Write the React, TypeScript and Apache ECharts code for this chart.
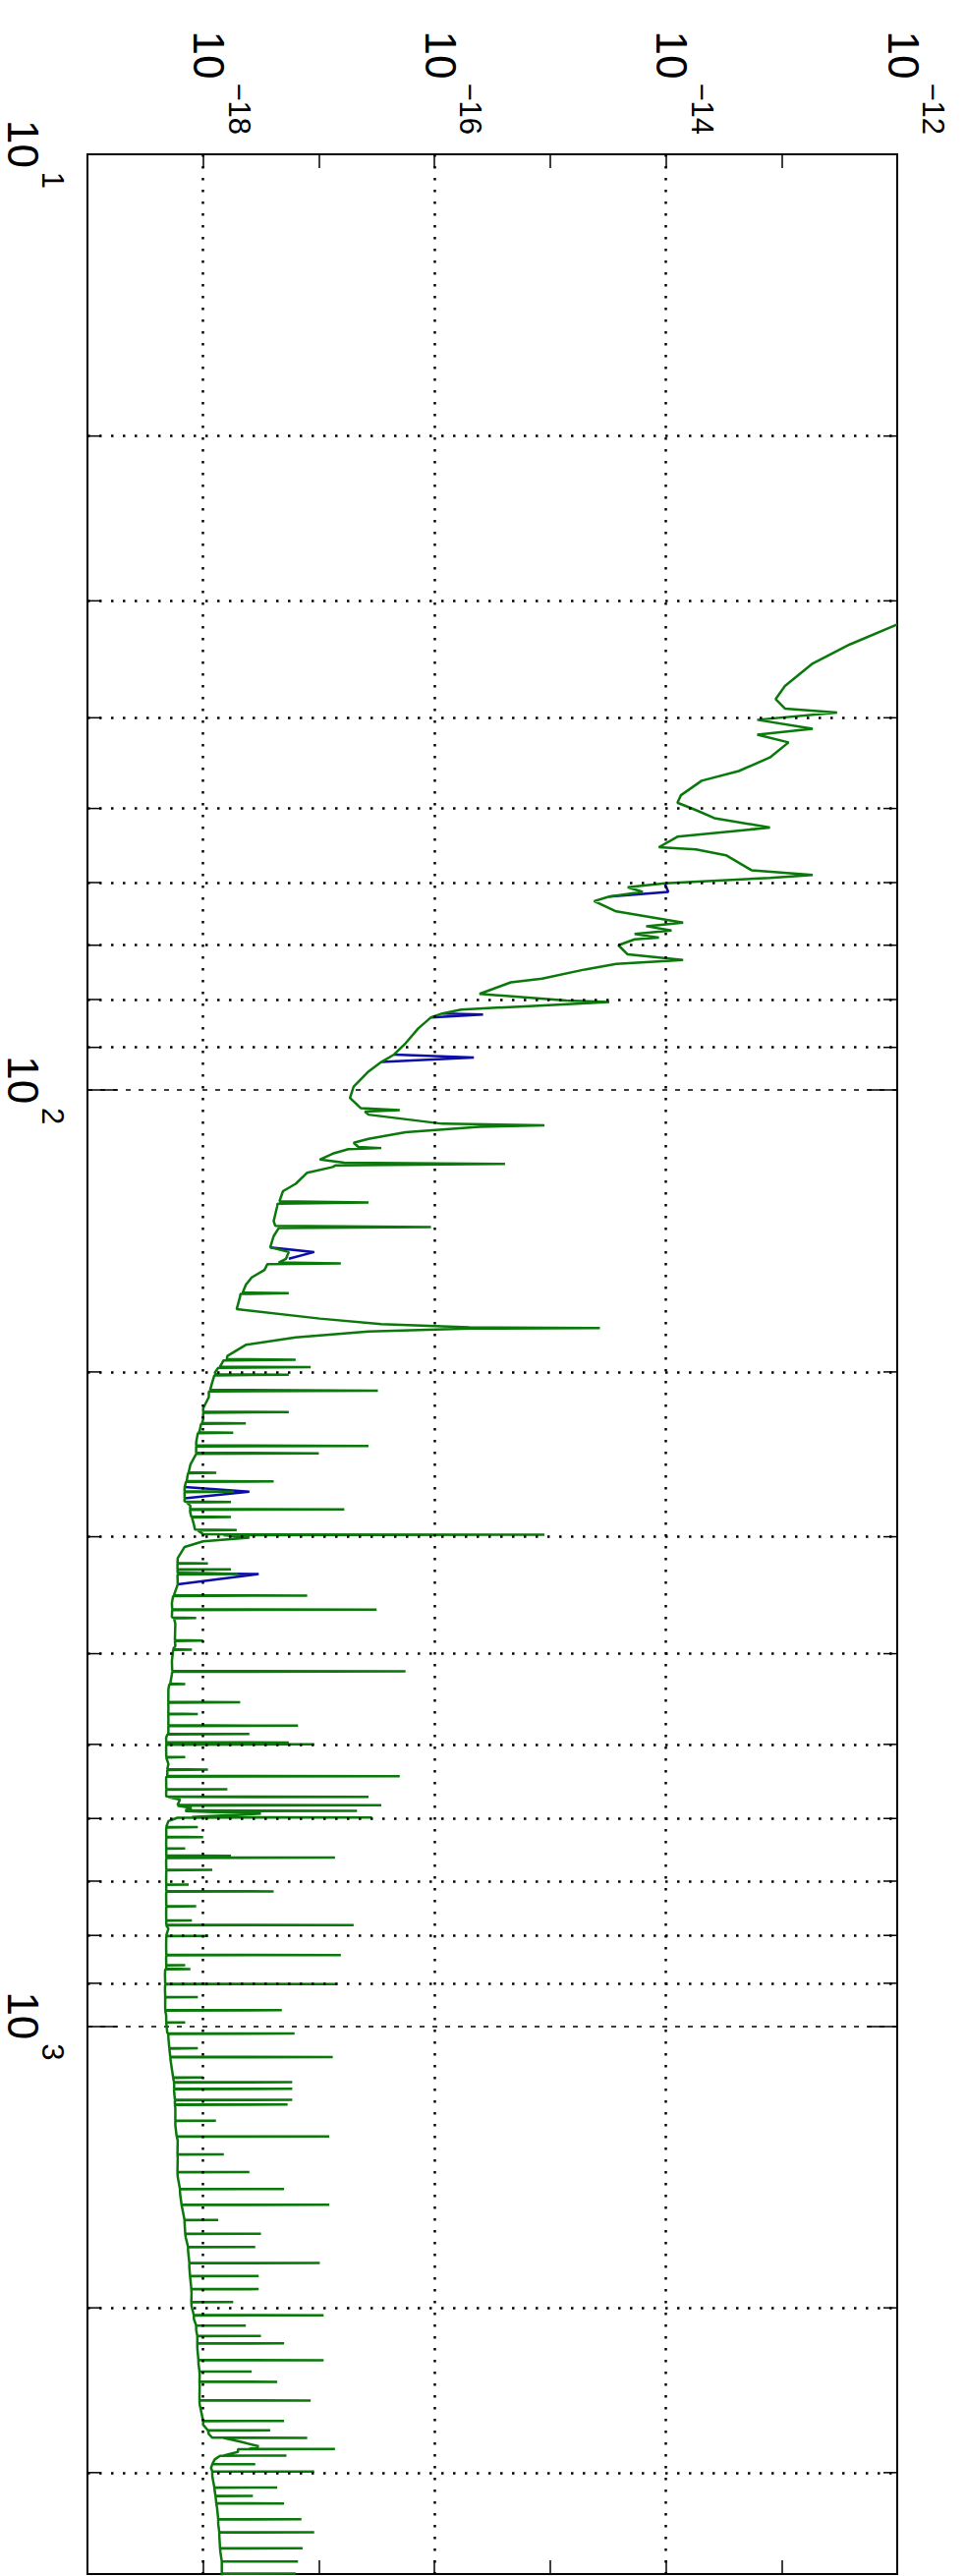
import React, { useEffect, useRef } from 'react';
import * as echarts from 'echarts';

const FONT = '"Liberation Sans", Arial, Helvetica, sans-serif';

// Axis ranges (frequency runs down the page, spectral value runs across)
const FREQ_MIN = 10;
const FREQ_MAX = 3850;
const PSD_MIN = 1e-19;
const PSD_MAX = 1e-12;

// Dotted grid positions
const psdGridValues = [1e-18, 1e-16, 1e-14];
const freqMinorGrid = [20, 30, 40, 50, 60, 70, 80, 90, 200, 300, 400, 500, 600, 700, 800, 900, 2000, 3000];

// Green trace: [frequency, value]
const greenTrace: [number, number][] = [
  [31.8, 1.0e-12], [33.4, 3.89e-13], [35.0, 1.86e-13], [37.0, 1.07e-13], [38.2, 8.9e-14],
  [39.1, 1.07e-13], [39.5, 3.02e-13], [40.2, 6.17e-14], [41.1, 1.86e-13], [41.7, 6.17e-14],
  [42.5, 1.15e-13], [44.1, 7.94e-14], [45.6, 4.27e-14], [46.7, 2.04e-14], [48.4, 1.35e-14],
  [49.3, 1.26e-14], [50.2, 1.82e-14], [51.2, 2.63e-14], [52.4, 7.94e-14], [53.6, 1.26e-14],
  [55.0, 8.71e-15], [55.3, 1.82e-14], [56.1, 3.31e-14], [58.2, 5.5e-14], [58.9, 1.86e-13],
  [59.3, 7.94e-14], [60.1, 9.77e-15], [60.7, 4.68e-15], [61.4, 6.31e-15], [62.1, 3.24e-15],
  [62.8, 2.4e-15], [64.4, 3.72e-15], [66.2, 1.41e-14], [66.8, 6.76e-15], [67.5, 1.12e-14],
  [68.1, 5.37e-15], [68.7, 8.71e-15], [69.0, 5.37e-15], [70.0, 3.89e-15], [71.6, 4.68e-15],
  [72.6, 1.41e-14], [73.3, 3.72e-15], [74.3, 2.0e-15], [76.0, 8.51e-16], [76.7, 4.57e-16],
  [78.9, 2.45e-16], [80.2, 1.38e-15], [80.5, 3.24e-15], [81.3, 6.61e-16], [82.0, 1.7e-16],
  [82.8, 1.17e-16], [83.6, 9.33e-17], [85.9, 7.24e-17], [89.1, 5.62e-17], [91.6, 4.47e-17],
  [93.3, 3.47e-17], [95.5, 2.69e-17], [99.1, 2.0e-17], [101.9, 1.86e-17], [104.5, 2.3e-17],
  [105.0, 5.01e-17], [105.4, 2.5e-17], [106.2, 2.69e-17], [108.6, 1.17e-16], [109.0, 8.91e-16],
  [109.4, 2.45e-16], [110.9, 5.62e-17], [112.7, 2.69e-17], [113.8, 2.0e-17], [115.0, 2.2e-17],
  [115.3, 3.47e-17], [115.6, 1.8e-17], [116.9, 1.32e-17], [118.6, 1.02e-17], [119.5, 1.66e-17],
  [119.9, 4.07e-16], [120.3, 1.4e-17], [120.8, 1.32e-17], [122.5, 7.94e-18], [125.9, 6.31e-18],
  [128.2, 4.9e-18], [131.4, 4.57e-18], [131.8, 2.69e-17], [132.2, 4.4e-18], [133.0, 4.37e-18],
  [138.0, 4.07e-18], [139.6, 4.2e-18], [140.0, 9.33e-17], [140.4, 4.5e-18], [143.2, 4.07e-18],
  [147.2, 3.8e-18], [148.9, 5.5e-18], [151.4, 5.2e-18], [152.8, 4.5e-18], [153.1, 1.55e-17],
  [153.4, 3.6e-18], [155.6, 3.39e-18], [158.5, 2.63e-18], [161.4, 2.34e-18], [164.5, 2.2e-18],
  [164.8, 5.5e-18], [165.1, 2.1e-18], [166.0, 2.09e-18], [171.4, 1.95e-18], [175.4, 1.02e-17],
  [177.8, 3.47e-17], [179.2, 2.0e-16], [179.5, 2.69e-15], [179.8, 2.0e-16], [181.1, 2.69e-17],
  [183.7, 6.31e-18], [187.1, 2.34e-18], [192.3, 1.62e-18], [193.8, 1.6e-18], [194.1, 6.31e-18],
  [194.4, 1.5e-18], [195.9, 1.45e-18], [197.4, 1.4e-18], [197.7, 8.51e-18], [198.0, 1.35e-18],
  [200.4, 1.26e-18], [201.1, 1.3e-18], [201.4, 5.5e-18], [201.7, 1.25e-18], [205.1, 1.2e-18],
  [209.0, 1.15e-18], [209.4, 3.24e-17], [209.8, 1.12e-18], [212.8, 1.12e-18], [218.8, 1.0e-18],
  [220.5, 1.0e-18], [220.8, 5.5e-18], [221.1, 1.0e-18], [224.9, 1.0e-18], [226.7, 9.8e-19],
  [227.0, 2.34e-18], [227.3, 9.6e-19], [231.2, 9.33e-19], [232.0, 9.2e-19], [232.3, 1.82e-18],
  [232.6, 9.0e-19], [237.7, 8.71e-19], [239.6, 8.7e-19], [239.9, 2.69e-17], [240.2, 8.7e-19],
  [243.9, 8.7e-19], [244.3, 1.0e-17], [244.7, 8.7e-19], [251.2, 7.76e-19], [256.0, 7.5e-19],
  [256.3, 1.3e-18], [256.6, 7.4e-19], [260.6, 7.24e-19], [261.5, 7.2e-19], [261.8, 4.07e-18],
  [262.1, 7.1e-19], [265.5, 6.92e-19], [268.2, 6.9e-19], [268.5, 1.82e-18], [268.8, 6.9e-19],
  [272.9, 6.92e-19], [275.1, 6.9e-19], [275.4, 1.74e-18], [275.7, 7.2e-19], [278.0, 7.76e-19],
  [280.2, 7.7e-19], [280.5, 1.66e-17], [280.8, 7.7e-19], [283.1, 7.76e-19], [285.5, 7.9e-19],
  [285.8, 1.74e-18], [286.1, 8.0e-19], [291.1, 8.32e-19], [294.8, 8.5e-19], [295.1, 1.95e-18],
  [295.4, 9.0e-19], [298.2, 1.0e-18], [298.5, 8.91e-16], [298.8, 1.5e-18], [300.6, 2.51e-18],
  [303.4, 1.0e-18], [307.6, 6.92e-19], [316.2, 6.03e-19], [320.0, 6.0e-19], [320.3, 1.1e-18],
  [320.6, 6.0e-19], [324.8, 6.0e-19], [325.1, 1.74e-18], [325.4, 6.0e-19], [328.1, 6.03e-19],
  [328.9, 2.0e-18], [329.3, 6.0e-19], [337.3, 6.03e-19], [346.3, 5.6e-19], [346.7, 7.94e-18],
  [347.1, 5.5e-19], [353.2, 5.37e-19], [358.5, 5.4e-19], [358.9, 3.16e-17], [359.3, 5.4e-19],
  [364.8, 5.37e-19], [366.0, 5.4e-19], [366.4, 8.71e-19], [366.8, 5.6e-19], [371.5, 5.75e-19],
  [386.9, 5.7e-19], [387.3, 1.0e-18], [387.7, 5.7e-19], [392.6, 5.75e-19], [395.6, 5.5e-19],
  [396.0, 8.0e-19], [396.4, 5.5e-19], [407.4, 5.37e-19], [417.3, 5.4e-19], [417.8, 5.62e-17],
  [418.3, 5.4e-19], [420.7, 5.37e-19], [430.6, 5.2e-19], [431.0, 7.0e-19], [431.4, 5.1e-19],
  [436.5, 5.01e-19], [450.3, 5.0e-19], [450.8, 2.09e-18], [451.3, 5.0e-19], [457.1, 5.01e-19],
  [463.6, 5.0e-19], [464.0, 9.0e-19], [464.4, 5.0e-19], [469.9, 5.01e-19], [477.0, 5.0e-19],
  [477.5, 6.61e-18], [478.0, 5.0e-19], [483.1, 5.01e-19], [487.0, 5.0e-19], [487.5, 2.51e-18],
  [488.0, 4.9e-19], [492.0, 4.79e-19], [497.2, 4.8e-19], [497.7, 5.5e-18], [498.2, 4.8e-19],
  [499.5, 4.8e-19], [500.0, 9.12e-18], [500.5, 4.8e-19], [504.7, 4.79e-19], [515.5, 4.8e-19],
  [516.0, 7.0e-19], [516.5, 4.8e-19], [524.8, 5.01e-19], [531.5, 4.9e-19], [532.0, 1.1e-18],
  [532.5, 4.9e-19], [540.2, 4.9e-19], [540.8, 5.01e-17], [541.4, 4.8e-19], [545.8, 4.79e-19],
  [558.0, 4.8e-19], [558.5, 1.62e-18], [559.0, 4.8e-19], [563.6, 4.79e-19], [568.4, 4.8e-19],
  [568.9, 2.69e-17], [569.4, 5.0e-19], [572.8, 6.31e-19], [580.3, 6.0e-19], [580.8, 3.47e-17],
  [581.3, 6.0e-19], [584.8, 7.94e-19], [588.3, 7.0e-19], [588.8, 2.14e-17], [589.3, 7.0e-19],
  [592.9, 3.16e-18], [597.9, 8.0e-19], [598.4, 2.88e-17], [598.9, 6.0e-19], [603.9, 5.01e-19],
  [612.5, 4.8e-19], [613.0, 9.0e-19], [613.5, 4.8e-19], [627.5, 4.8e-19], [628.1, 1.0e-18],
  [628.7, 4.8e-19], [638.3, 4.79e-19], [645.5, 4.8e-19], [646.0, 7.0e-19], [646.5, 4.8e-19],
  [657.1, 4.8e-19], [657.7, 1.74e-18], [658.3, 4.8e-19], [660.1, 4.8e-19], [660.7, 1.38e-17],
  [661.3, 4.8e-19], [668.3, 4.79e-19], [680.5, 4.8e-19], [681.0, 1.2e-18], [681.5, 4.8e-19],
  [699.8, 4.79e-19], [705.5, 4.8e-19], [706.0, 7.5e-19], [706.5, 4.8e-19], [717.2, 4.8e-19],
  [717.8, 4.07e-18], [718.4, 4.8e-19], [724.4, 4.79e-19], [744.0, 4.8e-19], [744.7, 8.71e-19],
  [745.4, 4.8e-19], [758.6, 4.79e-19], [770.5, 4.8e-19], [771.0, 8.0e-19], [771.5, 4.8e-19],
  [779.0, 4.8e-19], [779.8, 2.0e-17], [780.6, 4.8e-19], [787.0, 5.01e-19], [800.5, 4.8e-19],
  [801.0, 1.1e-18], [801.5, 4.8e-19], [822.2, 4.79e-19], [838.7, 4.8e-19], [839.5, 1.55e-17],
  [840.3, 4.8e-19], [847.2, 4.79e-19], [860.5, 4.8e-19], [861.0, 7.0e-19], [861.5, 4.8e-19],
  [868.2, 4.8e-19], [869.0, 7.76e-19], [869.8, 4.7e-19], [881.0, 4.68e-19], [900.7, 4.7e-19],
  [901.6, 1.45e-17], [902.5, 4.7e-19], [912.0, 4.68e-19], [930.5, 4.7e-19], [931.0, 9.0e-19],
  [931.5, 4.7e-19], [960.7, 4.7e-19], [961.6, 4.79e-18], [962.5, 4.7e-19], [972.9, 4.79e-19],
  [990.5, 4.8e-19], [991.0, 7.0e-19], [991.5, 4.8e-19], [1017.6, 4.9e-19], [1018.6, 6.17e-18],
  [1019.6, 5.0e-19], [1030.4, 5.01e-19], [1055, 5.1e-19], [1056, 9.0e-19], [1057, 5.1e-19],
  [1078, 5.2e-19], [1079, 1.32e-17], [1080, 5.2e-19], [1091.4, 5.25e-19], [1134, 5.5e-19],
  [1135, 1.0e-18], [1136, 5.5e-19], [1147, 5.6e-19], [1148, 5.89e-18], [1149, 5.6e-19],
  [1159, 5.62e-19], [1166, 5.6e-19], [1167, 5.89e-18], [1168, 5.6e-19], [1178, 5.62e-19],
  [1198, 5.7e-19], [1199, 5.89e-18], [1200, 5.7e-19], [1212, 5.7e-19], [1213, 5.37e-18],
  [1214, 5.7e-19], [1225, 5.75e-19], [1261, 5.75e-19], [1262, 1.29e-18], [1263, 5.75e-19],
  [1276, 5.75e-19], [1311, 5.9e-19], [1312, 1.23e-17], [1313, 5.9e-19], [1324, 6.03e-19],
  [1370, 6.0e-19], [1371, 1.51e-18], [1372, 6.0e-19], [1384, 6.03e-19], [1431, 6.0e-19],
  [1432, 2.51e-18], [1433, 6.0e-19], [1449, 6.03e-19], [1492, 6.3e-19], [1493, 5.01e-18],
  [1494, 6.3e-19], [1507, 6.31e-19], [1551, 6.5e-19], [1552, 1.23e-17], [1553, 6.5e-19],
  [1567, 6.61e-19], [1610, 6.9e-19], [1611, 1.35e-18], [1612, 6.9e-19], [1626, 6.92e-19],
  [1666, 7.0e-19], [1667, 3.16e-18], [1668, 7.0e-19], [1683, 7.08e-19], [1721, 7.4e-19],
  [1722, 2.82e-18], [1723, 7.4e-19], [1738, 7.41e-19], [1790, 7.6e-19], [1791, 1.02e-17],
  [1792, 7.6e-19], [1807, 7.59e-19], [1848, 7.7e-19], [1849, 3.02e-18], [1850, 7.7e-19],
  [1866, 7.76e-19], [1909, 7.9e-19], [1910, 3.02e-18], [1911, 7.9e-19], [1928, 7.94e-19],
  [1971, 7.9e-19], [1972, 1.82e-18], [1973, 7.9e-19], [1991, 7.94e-19], [2036, 8.3e-19],
  [2037, 1.1e-17], [2038, 8.3e-19], [2056, 8.32e-19], [2088, 8.7e-19], [2089, 2.34e-18],
  [2090, 8.7e-19], [2113, 8.71e-19], [2142, 8.9e-19], [2143, 3.16e-18], [2144, 8.9e-19],
  [2163, 8.91e-19], [2182, 8.9e-19], [2183, 5.01e-18], [2184, 8.9e-19], [2208, 8.91e-19],
  [2274, 9.1e-19], [2275, 1.1e-17], [2276, 9.1e-19], [2296, 9.12e-19], [2338, 9.3e-19],
  [2339, 2.63e-18], [2340, 9.3e-19], [2360, 9.33e-19], [2398, 9.3e-19], [2399, 4.37e-18],
  [2400, 9.3e-19], [2421, 9.33e-19], [2511, 9.3e-19], [2512, 8.51e-18], [2513, 9.3e-19],
  [2535, 9.33e-19], [2641, 1.0e-18], [2642, 5.01e-18], [2643, 1.0e-18], [2667, 1.0e-18],
  [2703, 1.1e-18], [2704, 3.8e-18], [2705, 1.1e-18], [2729, 1.12e-18], [2753, 1.2e-18],
  [2754, 7.94e-18], [2755, 1.5e-18], [2780, 2.09e-18], [2812, 3.02e-18], [2830, 2.5e-18],
  [2831, 1.38e-17], [2832, 2.0e-18], [2851, 2.0e-18], [2876, 1.5e-18], [2877, 5.25e-18],
  [2878, 1.4e-18], [2904, 1.26e-18], [2937, 1.2e-18], [2938, 2.82e-18], [2939, 1.2e-18],
  [2965, 1.17e-18], [2991, 1.2e-18], [2992, 9.12e-18], [2993, 1.2e-18], [3027, 1.2e-18],
  [3111, 1.25e-18], [3112, 4.37e-18], [3113, 1.25e-18], [3141, 1.26e-18], [3176, 1.28e-18],
  [3177, 2.69e-18], [3178, 1.28e-18], [3206, 1.29e-18], [3235, 1.3e-18], [3236, 5.01e-18],
  [3237, 1.3e-18], [3273, 1.32e-18], [3364, 1.35e-18], [3365, 7.08e-18], [3366, 1.35e-18],
  [3404, 1.35e-18], [3474, 1.38e-18], [3475, 9.12e-18], [3476, 1.38e-18], [3508, 1.38e-18],
  [3613, 1.4e-18], [3614, 7.24e-18], [3615, 1.4e-18], [3648, 1.41e-18], [3732, 1.45e-18],
  [3733, 6.61e-18], [3734, 1.45e-18], [3767, 1.45e-18], [3845, 1.45e-18], [3846, 6.31e-18],
  [3847, 1.45e-18], [3890, 1.45e-18],
];

// Blue trace: only the parts that differ visibly from the green one
const blueSegments: [number, number][][] = [
  [[60.1, 9.77e-15], [61.4, 1.05e-14], [62.1, 3.24e-15]],
  [[82.8, 1.17e-16], [83.0, 2.63e-16], [83.6, 9.33e-17]],
  [[91.6, 4.47e-17], [92.3, 2.19e-16], [93.3, 3.47e-17]],
  [[147.2, 3.8e-18], [148.9, 9.12e-18], [151.4, 5.5e-18]],
  [[265.5, 6.92e-19], [268.5, 2.51e-18], [272.9, 6.92e-19]],
  [[328.1, 6.03e-19], [328.9, 3.02e-18], [337.3, 6.03e-19]],
];

const GREEN = '#0b780b';
const BLUE = '#0c0ca8';

const rich = {
  b: { fontFamily: FONT, fontSize: 44, color: '#000', verticalAlign: 'bottom', padding: [0, 0, 36, 0] },
  e: { fontFamily: FONT, fontSize: 31, color: '#000', verticalAlign: 'bottom', padding: [0, 0, 73, 4] },
};

function powLabel(v: number, evenOnly: boolean): string {
  const l = Math.log10(v);
  const r = Math.round(l);
  if (Math.abs(l - r) > 1e-6) return '';
  if (evenOnly && r % 2 !== 0) return '';
  const ex = r < 0 ? '\u2212' + String(-r) : String(r);
  return `{b|10}{e|${ex}}`;
}

const dotted = { color: '#000', width: 2.5, type: [2.5, 9.5] as number[] };

export default function App() {
  const ref = useRef<HTMLDivElement>(null);
  useEffect(() => {
    if (!ref.current) return;
    const chart = echarts.init(ref.current, undefined, { renderer: 'svg' });
    const xCommon = {
      type: 'log',
      logBase: 10,
      min: PSD_MIN,
      max: PSD_MAX,
      splitNumber: 7,
      axisLine: { show: false, onZero: false },
      axisTick: { show: true, inside: true, length: 14, lineStyle: { color: '#000', width: 1.5 } },
      splitLine: { show: false },
    };
    const yCommon = {
      type: 'log',
      logBase: 10,
      min: FREQ_MIN,
      max: FREQ_MAX,
      inverse: true,
      axisLine: { show: false, onZero: false },
      axisTick: { show: true, inside: true, length: 30, lineStyle: { color: '#000', width: 1.5 } },
    };
    const gridLines = [
      ...psdGridValues.map((v) => [{ coord: [v, FREQ_MIN] }, { coord: [v, FREQ_MAX] }]),
      ...freqMinorGrid.map((f) => [{ coord: [PSD_MIN, f] }, { coord: [PSD_MAX, f] }]),
    ];
    const series: any[] = [];
    blueSegments.forEach((seg, i) => {
      series.push({
        type: 'line',
        name: 'blue' + i,
        xAxisIndex: 0,
        yAxisIndex: 0,
        data: seg.map(([f, p]) => [p, f]),
        showSymbol: false,
        symbol: 'none',
        lineStyle: { color: BLUE, width: 2.5 },
        z: 2,
        silent: true,
      });
    });
    series.push({
      type: 'line',
      name: 'green',
      xAxisIndex: 0,
      yAxisIndex: 0,
      data: greenTrace.map(([f, p]) => [p, f]),
      showSymbol: false,
      symbol: 'none',
      clip: true,
      lineStyle: { color: GREEN, width: 2.5 },
      z: 3,
      silent: true,
      markLine: {
        silent: true,
        symbol: ['none', 'none'],
        label: { show: false },
        animation: false,
        lineStyle: dotted,
        data: gridLines,
      },
    });

    chart.setOption({
      animation: false,
      backgroundColor: '#fff',
      textStyle: { fontFamily: FONT },
      grid: {
        left: 89,
        top: 157,
        width: 824,
        height: 2462,
        show: true,
        borderColor: '#000',
        borderWidth: 2,
        backgroundColor: 'transparent',
        containLabel: false,
        outerBoundsMode: 'none',
      },
      xAxis: [
        {
          ...xCommon,
          position: 'top',
          axisLabel: {
            show: true,
            rotate: 90,
            margin: 20,
            formatter: (v: number) => powLabel(v, true),
            rich,
          },
        },
        { ...xCommon, position: 'bottom', axisLabel: { show: false } },
      ],
      yAxis: [
        {
          ...yCommon,
          position: 'left',
          axisLabel: {
            show: true,
            rotate: -90,
            margin: 20,
            formatter: (v: number) => powLabel(v, false),
            rich,
          },
          splitLine: { show: true, lineStyle: { color: '#000', width: 1.5, type: [5, 8] } },
        },
        { ...yCommon, position: 'right', axisLabel: { show: false }, splitLine: { show: false } },
      ],
      series,
    });

    // minor frequency ticks on both sides, placed through the axis scale
    const left = chart.convertToPixel({ xAxisIndex: 0 }, PSD_MIN) as number;
    const right = chart.convertToPixel({ xAxisIndex: 0 }, PSD_MAX) as number;
    const graphics: any[] = [];
    freqMinorGrid.forEach((f) => {
      const y = chart.convertToPixel({ yAxisIndex: 0 }, f) as number;
      graphics.push({
        type: 'line', silent: true, z: 10,
        shape: { x1: left, y1: y, x2: left + 14, y2: y },
        style: { stroke: '#000', lineWidth: 1.5 },
      });
      graphics.push({
        type: 'line', silent: true, z: 10,
        shape: { x1: right - 14, y1: y, x2: right, y2: y },
        style: { stroke: '#000', lineWidth: 1.5 },
      });
    });
    chart.setOption({ graphic: graphics });

    return () => chart.dispose();
  }, []);
  return (
    <div
      ref={ref}
      style={{ position: 'absolute', left: 0, top: 0, width: 983, height: 2621, background: '#fff' }}
    />
  );
}
